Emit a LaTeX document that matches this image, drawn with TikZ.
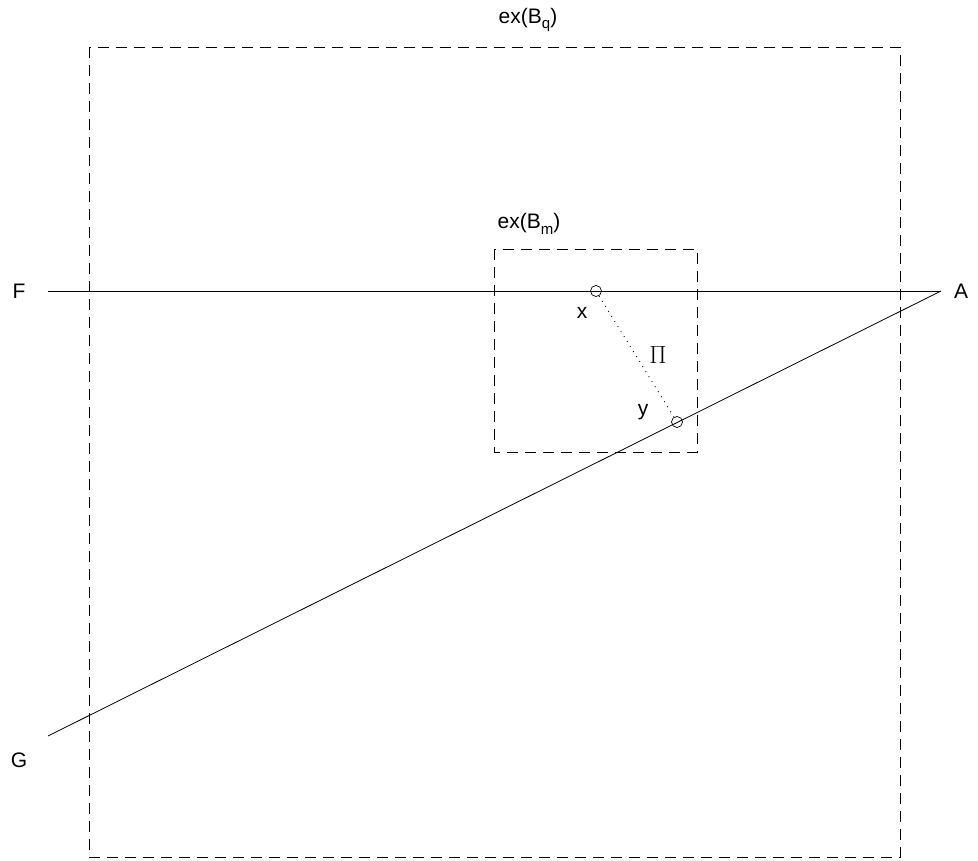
\documentclass[tikz,border=0pt]{standalone}
\usepackage{fontspec}
\setmainfont{Liberation Sans}
\usepackage{tikz}
\usetikzlibrary{positioning}

\newcommand{\subq}[1]{\raisebox{-0.5ex}{\fontsize{15}{15}\selectfont #1}}

\begin{document}
\begin{tikzpicture}[
  x=1pt, y=-1pt,
  every node/.style={font=\fontsize{21}{23}\selectfont},
  boxline/.style={draw, dash pattern=on 11pt off 7pt, line width=0.7pt},
  thinline/.style={draw, line width=0.8pt},
  pointmark/.style={circle, draw, line width=0.7pt, inner sep=0pt, minimum size=11pt},
  pathline/.style={dash pattern=on 0.9pt off 5pt, line width=0.9pt}
]
\useasboundingbox (0,0) rectangle (978,861);

% the two boxes
\draw[boxline] (89,47) rectangle (900,857);
\draw[boxline] (494,249) rectangle (697,452);
\node (bq) at (528,20)  {ex(B\subq{q})};
\node (bm) at (529,224) {ex(B\subq{m})};

% the two lines
\coordinate (fend) at (48,291);
\coordinate (aend) at (941,291);
\coordinate (gend) at (48,736);
\draw[thinline] (fend) -- (aend);
\draw[thinline] (gend) -- (aend);
\node (flab) at (19,291) {F};
\node (alab) at (961,291) {A};
\node (glab) at (19,760) {G};

% points and the path between them
\node[pointmark] (xpt) at (596,291) {};
\node[pointmark] (ypt) at (677,422) {};
\draw[pathline] (xpt) -- (ypt);
\node (xlab) at (582,313) {x};
\node (ylab) at (643,412) {y};
\node (pilab) at (658,355) {\fontsize{30}{32}\selectfont$\Pi$};

\end{tikzpicture}
\end{document}
